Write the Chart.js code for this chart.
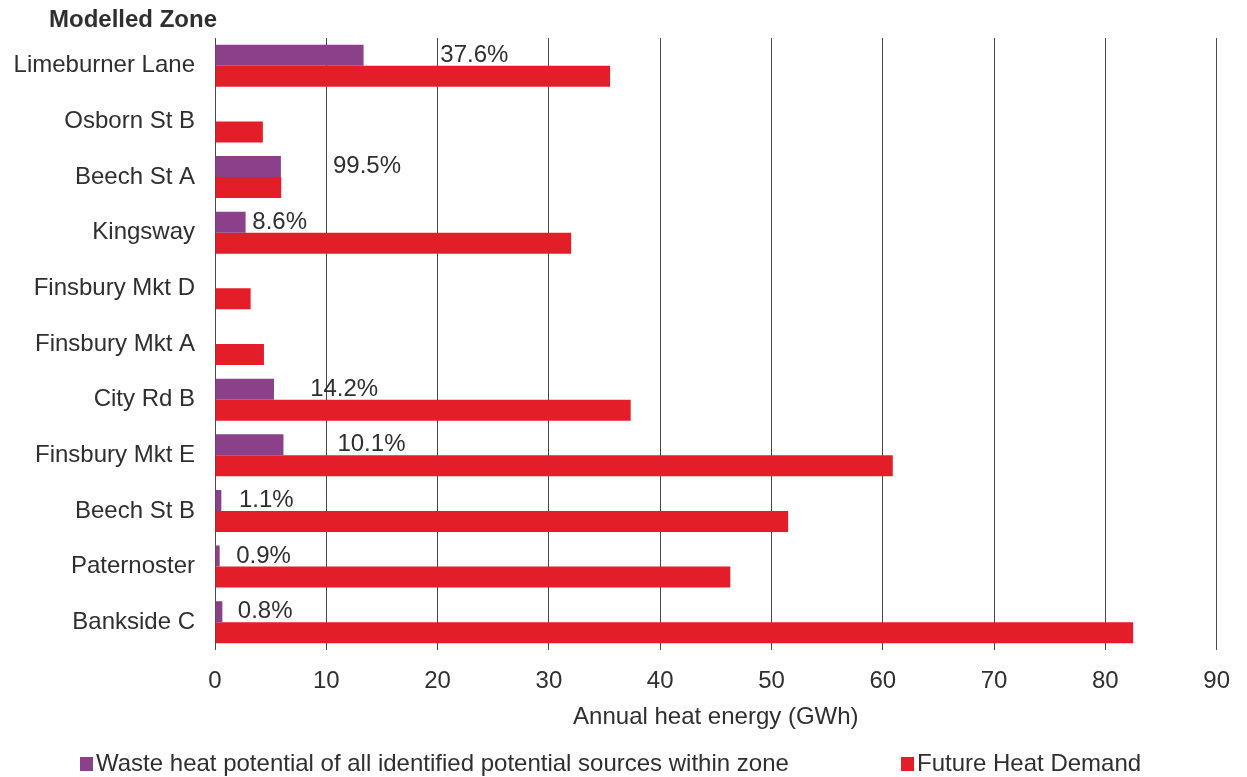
<!DOCTYPE html>
<html>
<head>
<meta charset="utf-8">
<title>Modelled Zone – annual heat energy</title>
<script src="https://cdn.jsdelivr.net/npm/chart.js@4.4.1/dist/chart.umd.min.js"></script>
<style>
  html, body { margin: 0; padding: 0; background: #ffffff; }
  #wrap { width: 1247px; height: 777px; position: relative; }
</style>
</head>
<body>
<div id="wrap"><canvas id="chart" width="1247" height="777"></canvas></div>
<script>
// Modelled zones, top to bottom
const zones = [
  'Limeburner Lane', 'Osborn St B', 'Beech St A', 'Kingsway',
  'Finsbury Mkt D', 'Finsbury Mkt A', 'City Rd B', 'Finsbury Mkt E',
  'Beech St B', 'Paternoster', 'Bankside C'
];

// Waste heat potential of identified sources in each zone (GWh/yr)
const wasteHeat = [13.35, null, 5.92, 2.75, null, null, 5.3, 6.15, 0.57, 0.42, 0.66];

// Future heat demand of each zone (GWh/yr)
const futureDemand = [35.5, 4.3, 5.95, 32.0, 3.2, 4.4, 37.35, 60.9, 51.5, 46.3, 82.5];

// Share of demand that waste heat could meet, as labelled
const coverageLabels = ['37.6%', '', '99.5%', '8.6%', '', '', '14.2%', '10.1%', '1.1%', '0.9%', '0.8%'];

// Where each coverage label starts along the energy axis (GWh)
const coverageLabelAt = [20.25, null, 10.6, 3.35, null, null, 8.55, 11.0, 2.15, 1.9, 2.05];

// Energy axis ticks
const energyTicks = [0, 10, 20, 30, 40, 50, 60, 70, 80, 90];

const FONT = '"Liberation Sans", Arial, Helvetica, sans-serif';
const FONT_SIZE = 24;
const TEXT = '#2f2f2f';
const PURPLE = '#8A418A';
const RED = '#E31E28';

// Coverage percentages next to the waste heat bars
const coveragePlugin = {
  id: 'coverageLabels',
  afterDatasetsDraw(chart) {
    const { ctx, scales } = chart;
    const meta = chart.getDatasetMeta(0);
    const demandMeta = chart.getDatasetMeta(1);
    ctx.save();
    ctx.font = FONT_SIZE + 'px ' + FONT;
    ctx.fillStyle = TEXT;
    ctx.textAlign = 'left';
    ctx.textBaseline = 'middle';
    coverageLabels.forEach((txt, i) => {
      if (!txt || coverageLabelAt[i] == null) return;
      const bar = meta.data[i];
      const red = demandMeta.data[i];
      // vertical centre of the upper (waste heat) bar slot
      const y = bar ? bar.y : red.y - red.height;
      ctx.fillText(txt, scales.x.getPixelForValue(coverageLabelAt[i]), y);
    });
    ctx.restore();
  }
};

// Heading over the zone labels and a two-item legend underneath
const framePlugin = {
  id: 'frameText',
  afterDraw(chart) {
    const { ctx } = chart;
    ctx.save();
    ctx.fillStyle = TEXT;
    ctx.textBaseline = 'middle';
    ctx.textAlign = 'left';
    ctx.font = 'bold ' + FONT_SIZE + 'px ' + FONT;
    ctx.fillText('Modelled Zone', 49, 20);

    ctx.font = FONT_SIZE + 'px ' + FONT;
    const items = [
      { x: 80, ds: chart.data.datasets[0] },
      { x: 901, ds: chart.data.datasets[1] }
    ];
    const y = 764;
    items.forEach(it => {
      ctx.fillStyle = it.ds.backgroundColor;
      ctx.fillRect(it.x, y - 7, 13, 14);
      ctx.fillStyle = TEXT;
      ctx.fillText(it.ds.label, it.x + 16, y);
    });
    ctx.restore();
  }
};

new Chart(document.getElementById('chart'), {
  type: 'bar',
  data: {
    labels: zones,
    datasets: [
      {
        label: 'Waste heat potential of all identified potential sources within zone',
        data: wasteHeat,
        backgroundColor: PURPLE,
        borderWidth: 0,
        categoryPercentage: 0.755,
        barPercentage: 1.0
      },
      {
        label: 'Future Heat Demand',
        data: futureDemand,
        backgroundColor: RED,
        borderWidth: 0,
        categoryPercentage: 0.755,
        barPercentage: 1.0
      }
    ]
  },
  options: {
    indexAxis: 'y',
    responsive: false,
    animation: false,
    layout: { padding: { top: 38, right: 28, bottom: 42, left: 0 } },
    plugins: {
      legend: { display: false },
      tooltip: { enabled: false },
      title: { display: false }
    },
    scales: {
      x: {
        min: energyTicks[0],
        max: energyTicks[energyTicks.length - 1],
        afterBuildTicks(scale) {
          scale.ticks = energyTicks.map(v => ({ value: v }));
        },
        afterFit(scale) { scale.height = 85; },
        border: { display: false },
        grid: {
          display: true,
          drawTicks: false,
          color: '#474747',
          lineWidth: 1
        },
        ticks: {
          padding: 17,
          color: TEXT,
          font: { family: FONT, size: FONT_SIZE },
          maxRotation: 0
        },
        title: {
          display: true,
          text: 'Annual heat energy (GWh)',
          color: TEXT,
          font: { family: FONT, size: FONT_SIZE },
          padding: { top: 0, bottom: 3 }
        }
      },
      y: {
        afterFit(scale) { scale.width = 215; },
        border: { display: false },
        grid: { display: false, drawTicks: false },
        ticks: {
          padding: 20,
          color: TEXT,
          font: { family: FONT, size: FONT_SIZE },
          autoSkip: false
        }
      }
    }
  },
  plugins: [coveragePlugin, framePlugin]
});
</script>
</body>
</html>
